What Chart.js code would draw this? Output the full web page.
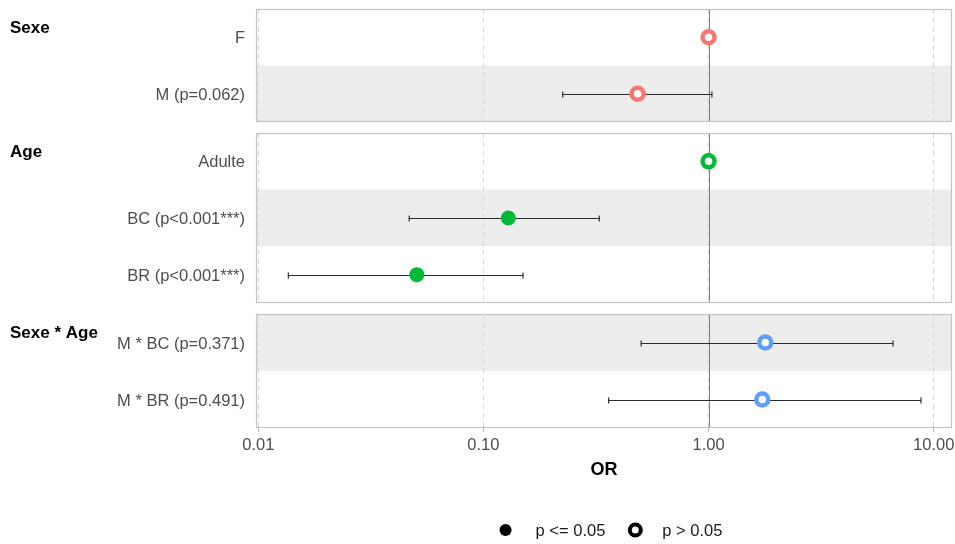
<!DOCTYPE html>
<html>
<head>
<meta charset="utf-8">
<script src="https://cdn.jsdelivr.net/npm/chart.js@4.4.1/dist/chart.umd.min.js"></script>
<style>
  html, body { margin: 0; padding: 0; background: #ffffff; }
  #wrap { position: relative; width: 955px; height: 544px; overflow: hidden; background: #ffffff; }
  #wrap canvas { position: absolute; left: 0; }
</style>
</head>
<body>
<div id="wrap">
  <canvas id="pSexe" width="955" height="125" style="top:0px"></canvas>
  <canvas id="pAge" width="955" height="180" style="top:125px"></canvas>
  <canvas id="pInter" width="955" height="239" style="top:305px"></canvas>
</div>
<script>
// Odds ratios of the logistic model, one entry per term
const groupNames = ['Sexe', 'Age', 'Sexe * Age'];
const groupColors = ['#F8766D', '#00BA38', '#619CFF'];
const termLabels = ['F', 'M (p=0.062)', 'Adulte', 'BC (p<0.001***)', 'BR (p<0.001***)', 'M * BC (p=0.371)', 'M * BR (p=0.491)'];
const termGroup = [0, 0, 1, 1, 1, 2, 2];
const oddsRatio = [1, 0.484, 1, 0.129, 0.0506, 1.786, 1.733];
const ciLower = [null, 0.225, null, 0.0468, 0.0136, 0.502, 0.360];
const ciUpper = [null, 1.035, null, 0.327, 0.150, 6.60, 8.78];
const significant = [false, false, false, true, true, false, false];
const xTickValues = [0.01, 0.1, 1, 10];
const xTitle = 'OR';
const legendLabels = ['p <= 0.05', 'p > 0.05'];

const FONT = "'Liberation Sans', Arial, sans-serif";
const X_MIN = 0.00977;
const X_MAX = 12.06;

// shading, reference line, confidence intervals, frame and group title
const panelDeco = {
  id: 'panelDeco',
  beforeDraw(chart, args, opts) {
    const { ctx, chartArea: a } = chart;
    const y = chart.scales.y;
    const terms = opts.terms;
    const band = a.height / terms.length;
    ctx.save();
    ctx.fillStyle = '#ffffff';
    ctx.fillRect(a.left, a.top, a.width, a.height);
    ctx.fillStyle = '#EDEDED';
    terms.forEach((t, i) => {
      if (t % 2 === 1) {
        const c = y.getPixelForValue(i);
        ctx.fillRect(a.left, c - band / 2, a.width, band);
      }
    });
    ctx.restore();
  },
  beforeDatasetsDraw(chart, args, opts) {
    const { ctx, chartArea: a } = chart;
    const { x, y } = chart.scales;
    ctx.save();
    const x1 = Math.round(x.getPixelForValue(1)) + 0.5;
    ctx.strokeStyle = '#7F7F7F';
    ctx.lineWidth = 1;
    ctx.beginPath();
    ctx.moveTo(x1, a.top);
    ctx.lineTo(x1, a.bottom);
    ctx.stroke();

    ctx.strokeStyle = '#2B2B2B';
    ctx.lineWidth = 1.2;
    opts.terms.forEach((t, i) => {
      if (ciLower[t] == null) return;
      const yc = Math.round(y.getPixelForValue(i)) + 0.5;
      const xl = x.getPixelForValue(ciLower[t]);
      const xr = x.getPixelForValue(ciUpper[t]);
      ctx.beginPath();
      ctx.moveTo(xl, yc); ctx.lineTo(xr, yc);
      ctx.moveTo(xl, yc - 3); ctx.lineTo(xl, yc + 3);
      ctx.moveTo(xr, yc - 3); ctx.lineTo(xr, yc + 3);
      ctx.stroke();
    });
    ctx.restore();
  },
  afterDatasetsDraw(chart) {
    const { ctx, chartArea: a } = chart;
    ctx.save();
    ctx.strokeStyle = '#C4C4C4';
    ctx.lineWidth = 1.2;
    ctx.strokeRect(a.left + 0.5, a.top + 0.5, a.width - 1, a.height - 1);
    ctx.restore();
  },
  afterDraw(chart, args, opts) {
    const { ctx, chartArea: a } = chart;
    ctx.save();
    ctx.fillStyle = '#000000';
    ctx.font = 'bold 17px ' + FONT;
    ctx.textAlign = 'left';
    ctx.textBaseline = 'alphabetic';
    ctx.fillText(groupNames[opts.group], 10, a.top + 23.5);

    if (opts.legend) {
      ctx.font = '16.5px ' + FONT;
      ctx.fillStyle = '#000000';
      ctx.textBaseline = 'middle';
      const w1 = ctx.measureText(legendLabels[0]).width;
      const w2 = ctx.measureText(legendLabels[1]).width;
      const total = 30 + w1 + 30 + 27 + w2;
      const cy = chart.height - 14;
      let cx = (a.left + a.right) / 2 + 10 - total / 2;
      // filled symbol: significant
      ctx.beginPath();
      ctx.arc(cx, cy, 6, 0, Math.PI * 2);
      ctx.fill();
      ctx.fillStyle = '#1A1A1A';
      ctx.fillText(legendLabels[0], cx + 30, cy + 1);
      cx += 30 + w1 + 30;
      // open symbol: not significant
      ctx.strokeStyle = '#000000';
      ctx.lineWidth = 4;
      ctx.beginPath();
      ctx.arc(cx, cy, 5.5, 0, Math.PI * 2);
      ctx.stroke();
      ctx.fillText(legendLabels[1], cx + 27, cy + 1);
    }
    ctx.restore();
  }
};

function zeroPadding(s) {
  s.paddingTop = 0;
  s.paddingBottom = 0;
  s.paddingLeft = 0;
  s.paddingRight = 0;
}

function makePanel(canvasId, group, withAxis, pad) {
  const terms = termGroup.map((g, i) => (g === group ? i : -1)).filter(i => i >= 0);
  const color = groupColors[group];
  return new Chart(document.getElementById(canvasId), {
    type: 'scatter',
    data: {
      datasets: [{
        data: terms.map(t => ({ x: oddsRatio[t], y: termLabels[t] })),
        pointRadius: 6,
        pointBorderWidth: terms.map(t => (significant[t] ? 3 : 4.5)),
        pointBorderColor: color,
        pointBackgroundColor: terms.map(t => (significant[t] ? color : '#ffffff')),
        pointHoverRadius: 0
      }]
    },
    options: {
      responsive: false,
      animation: false,
      events: [],
      devicePixelRatio: 1,
      layout: { autoPadding: false, padding: { top: pad.top, bottom: pad.bottom, left: 0, right: 3 } },
      plugins: {
        legend: { display: false },
        tooltip: { enabled: false },
        panelDeco: { terms: terms, group: group, legend: withAxis }
      },
      scales: {
        x: {
          type: 'logarithmic',
          min: X_MIN,
          max: X_MAX,
          afterBuildTicks: s => { s.ticks = xTickValues.map(v => ({ value: v })); },
          afterFit: s => { s.height = withAxis ? 56 : 0; zeroPadding(s); },
          grid: {
            color: '#D6D6D6', lineWidth: 1,
            drawTicks: withAxis, tickLength: 4, tickColor: '#B3B3B3'
          },
          border: { display: false, dash: [5, 4] },
          ticks: {
            display: withAxis, padding: 4, color: '#4D4D4D',
            font: { family: FONT, size: 16.5 },
            maxRotation: 0, autoSkip: false,
            callback: v => Number(v).toFixed(2)
          },
          title: {
            display: withAxis, text: xTitle, color: '#000000',
            font: { family: FONT, size: 18, weight: 'bold' },
            padding: { top: 0, bottom: 3 }
          }
        },
        y: {
          type: 'category',
          labels: terms.map(t => termLabels[t]),
          offset: true,
          afterFit: s => { s.width = 256; zeroPadding(s); },
          grid: { display: false, drawTicks: false },
          border: { display: false },
          ticks: { padding: 11, labelOffset: 1.5, color: '#4D4D4D', font: { family: FONT, size: 16.5 } }
        }
      }
    },
    plugins: [panelDeco]
  });
}

makePanel('pSexe', 0, false, { top: 9, bottom: 3 });
makePanel('pAge', 1, false, { top: 8, bottom: 2 });
makePanel('pInter', 2, true, { top: 9, bottom: 60 });
</script>
</body>
</html>
